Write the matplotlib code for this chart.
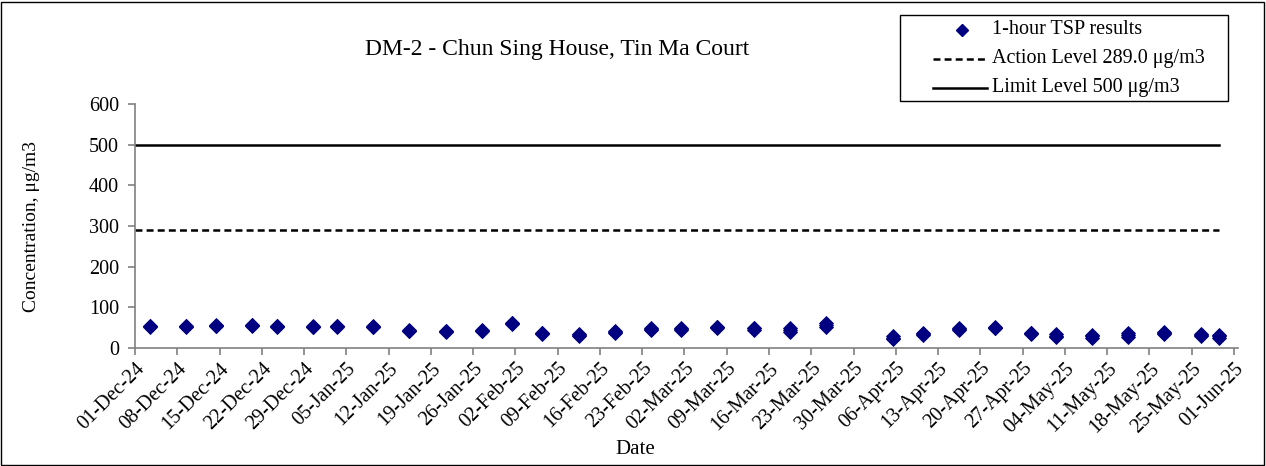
import matplotlib
matplotlib.use("Agg")
import matplotlib.pyplot as plt
import matplotlib.dates as mdates
from matplotlib.patches import Rectangle
from matplotlib.lines import Line2D
import pandas as pd

# ---- data ----
sample_dates = [
    "2024-12-03 11:00", "2024-12-09 11:00", "2024-12-14 11:00", "2024-12-20 11:00",
    "2024-12-24 11:00", "2024-12-30 11:00", "2025-01-03 11:00", "2025-01-09 11:00",
    "2025-01-15 11:00", "2025-01-21 11:00", "2025-01-27 11:00", "2025-02-01 11:00",
    "2025-02-06 11:00", "2025-02-12 11:00", "2025-02-18 11:00", "2025-02-24 11:00",
    "2025-03-01 11:00", "2025-03-07 11:00", "2025-03-13 11:00", "2025-03-19 11:00",
    "2025-03-25 11:00", "2025-04-05 11:00", "2025-04-10 11:00", "2025-04-16 11:00",
    "2025-04-22 11:00", "2025-04-28 11:00", "2025-05-02 11:00", "2025-05-08 11:00",
    "2025-05-14 11:00", "2025-05-20 11:00", "2025-05-26 11:00", "2025-05-29 11:00",
]
tsp_reading_1 = [52, 52, 54, 55, 52, 51, 52, 51, 41, 40, 41, 59, 34, 30, 38, 44,
                 44, 49, 45, 40, 52, 21, 32, 44, 48, 34, 26, 25, 28, 35, 29, 25]
tsp_reading_2 = [53, 53, 55, 56, 53, 52, 53, 52, 43, 42, 43, 61, 36, 32, 40, 46,
                 46, 51, 48, 44, 56, 25, 35, 47, 50, 36, 30, 29, 32, 38, 32, 29]
tsp_reading_3 = [54, 54, 56, 57, 54, 54, 54, 54, 45, 43, 44, 62, 37, 34, 42, 48,
                 48, 52, 50, 49, 62, 29, 38, 49, 52, 38, 34, 33, 36, 39, 35, 32]

action_level = 289.0
limit_level = 500
y_ticks = [0, 100, 200, 300, 400, 500, 600]
axis_start = "2024-12-01"
axis_end = "2025-06-01 16:00"

title = "DM-2 - Chun Sing House, Tin Ma Court"
x_label = "Date"
y_label = "Concentration, \u03bcg/m3"
legend_labels = ["1-hour TSP results",
                 "Action Level 289.0 \u03bcg/m3",
                 "Limit Level 500 \u03bcg/m3"]

# ---- plot ----
plt.rcParams['font.family'] = ['Liberation Serif', 'DejaVu Serif']
plt.rcParams['lines.scale_dashes'] = False
FS = 14.5
W, H = 1266, 466

dates = pd.to_datetime(sample_dates)
x0 = pd.Timestamp(axis_start)
x1 = pd.Timestamp(axis_end)

fig = plt.figure(figsize=(W / 100, H / 100), dpi=100)
ax = fig.add_axes([135/W, 1-348/H, (1238-135)/W, (348-104)/H])

navy = "#000080"
for vals in (tsp_reading_1, tsp_reading_2, tsp_reading_3):
    ax.plot(dates, vals, linestyle='none', marker='D', markersize=6.8,
            markerfacecolor=navy, markeredgecolor=navy, markeredgewidth=0.6,
            zorder=3, clip_on=False)

line_end = dates[-1]
ax.plot([x0, line_end], [action_level, action_level], color='black',
        linewidth=1.8, dashes=(5, 3), zorder=2)
ax.plot([x0, line_end], [limit_level, limit_level], color='black',
        linewidth=1.8, zorder=2)

ax.set_xlim(x0, x1)
ax.set_ylim(0, 600)
ax.set_yticks(y_ticks)
ticks = pd.date_range(axis_start, "2025-06-01", freq="7D")
ax.set_xticks(ticks)
ax.xaxis.set_major_formatter(mdates.DateFormatter('%d-%b-%y'))

for s in ['top', 'right']:
    ax.spines[s].set_visible(False)
for s in ['left', 'bottom']:
    ax.spines[s].set_color('#808080')
    ax.spines[s].set_linewidth(1.2)
ax.tick_params(axis='both', direction='out', length=5, width=1.2, color='#808080',
               labelsize=FS)
ax.tick_params(axis='x', pad=3)
ax.tick_params(axis='y', pad=6.5)
for lab in ax.get_xticklabels():
    lab.set_rotation(45)
    lab.set_ha('right')
    lab.set_va('top')
    lab.set_rotation_mode('anchor')

fig.text(32/W, 1-226/H, y_label, ha='center', va='center', rotation=90, fontsize=14)
fig.text(635/W, 1-449/H, x_label, ha='center', va='center', fontsize=15)
fig.text(557/W, 1-50/H, title, ha='center', va='center', fontsize=17)

# legend (drawn manually in figure pixel coordinates)
def px(x, y):
    return x / W, 1 - y / H

lx0, ly0, lx1, ly1 = 900, 15, 1228, 101
fig.patches.append(Rectangle(px(lx0, ly1), (lx1-lx0)/W, (ly1-ly0)/H,
                             transform=fig.transFigure, fill=True, facecolor='white',
                             edgecolor='black', linewidth=1.0, zorder=5))
rows_y = [30, 59, 87.5]
mx, my = px(962, rows_y[0])
fig.add_artist(Line2D([mx], [my], transform=fig.transFigure, linestyle='none',
                      marker='D', markersize=5.8, color=navy, zorder=6))
xa, ya = px(933, rows_y[1])
xb, _ = px(987, rows_y[1])
fig.add_artist(Line2D([xa, xb], [ya, ya], transform=fig.transFigure, color='black',
                      linewidth=1.8, dashes=(5, 3), zorder=6))
xa, ya = px(933, rows_y[2])
fig.add_artist(Line2D([xa, xb], [ya, ya], transform=fig.transFigure, color='black',
                      linewidth=1.8, zorder=6))
for lbl, ry in zip(legend_labels, rows_y):
    tx, ty = px(992, ry)
    fig.text(tx, ty, lbl, ha='left', va='center', fontsize=FS, zorder=7)

fig.patches.append(Rectangle((1/W, 1/H), (W-3)/W, (H-3)/H,
                             transform=fig.transFigure, fill=False,
                             edgecolor='black', linewidth=1.0))

fig.savefig("out.png", dpi=100)
